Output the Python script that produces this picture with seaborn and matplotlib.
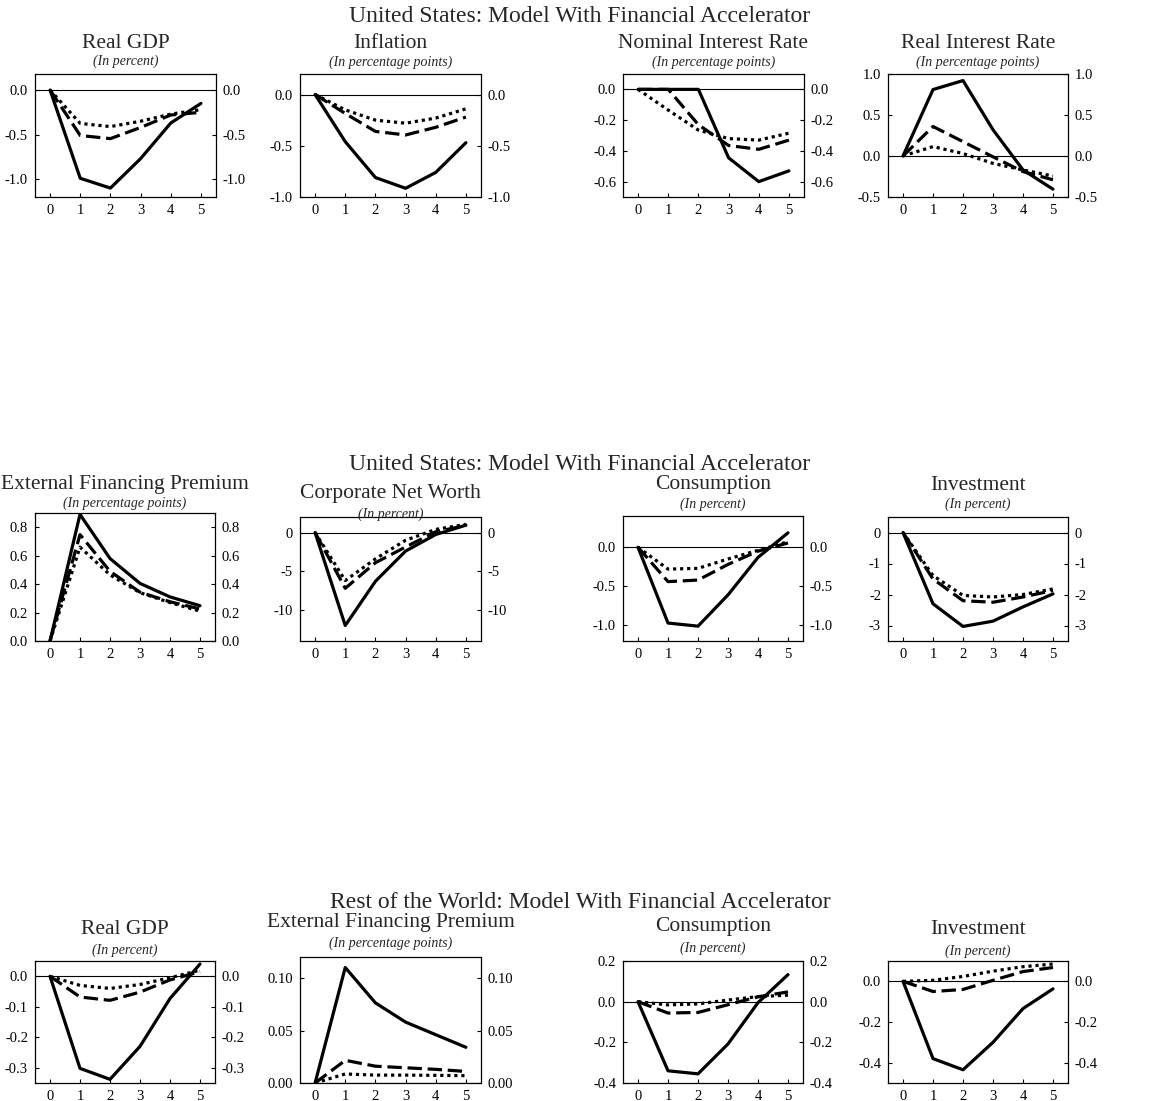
import numpy as np
import pandas as pd
import matplotlib
matplotlib.use("Agg")
import matplotlib.pyplot as plt
from matplotlib.ticker import FormatStrFormatter
import seaborn as sns

# quarters after the shock
quarters = [0, 1, 2, 3, 4, 5]
scenarios = ["A", "B", "C"]  # solid, dashed, dotted

# United States, page 1
us_gdp = {"A": [0, -0.99, -1.10, -0.77, -0.37, -0.15],
          "B": [0, -0.51, -0.545, -0.42, -0.28, -0.25],
          "C": [0, -0.375, -0.41, -0.35, -0.27, -0.22]}
us_infl = {"A": [0, -0.46, -0.81, -0.915, -0.76, -0.47],
           "B": [0, -0.185, -0.36, -0.395, -0.32, -0.22],
           "C": [0, -0.15, -0.25, -0.28, -0.23, -0.14]}
us_nom = {"A": [0, 0, 0, -0.445, -0.60, -0.53],
          "B": [0, 0, -0.23, -0.365, -0.39, -0.33],
          "C": [0, -0.135, -0.265, -0.32, -0.33, -0.285]}
us_real = {"A": [0, 0.81, 0.92, 0.32, -0.17, -0.405],
           "B": [0, 0.36, 0.175, -0.01, -0.19, -0.29],
           "C": [0, 0.115, 0.03, -0.09, -0.17, -0.245]}

# United States, page 2
us_efp = {"A": [0, 0.89, 0.58, 0.405, 0.31, 0.248],
          "B": [0, 0.748, 0.49, 0.343, 0.276, 0.225],
          "C": [0, 0.66, 0.465, 0.34, 0.27, 0.21]}
us_cnw = {"A": [0, -12.0, -6.3, -2.4, -0.26, 0.95],
          "B": [0, -7.2, -3.9, -1.87, 0.1, 0.9],
          "C": [0, -6.2, -3.4, -1.0, 0.4, 1.05]}
us_cons = {"A": [0, -0.97, -1.01, -0.61, -0.13, 0.185],
           "B": [0, -0.44, -0.42, -0.22, -0.05, 0.055],
           "C": [0, -0.28, -0.27, -0.15, -0.04, 0.07]}
us_inv = {"A": [0, -2.3, -3.03, -2.86, -2.4, -1.98],
          "B": [0, -1.5, -2.2, -2.25, -2.08, -1.87],
          "C": [0, -1.39, -2.03, -2.08, -2.0, -1.82]}

# Rest of the world
rw_gdp = {"A": [0, -0.302, -0.338, -0.23, -0.073, 0.04],
          "B": [0, -0.068, -0.079, -0.052, -0.012, 0.015],
          "C": [0, -0.03, -0.04, -0.027, -0.005, 0.02]}
rw_efp = {"A": [0, 0.11, 0.0763, 0.058, 0.046, 0.034],
          "B": [0, 0.0216, 0.016, 0.0145, 0.013, 0.011],
          "C": [0, 0.0086, 0.0075, 0.0075, 0.0073, 0.007]}
rw_cons = {"A": [0, -0.34, -0.355, -0.208, -0.005, 0.133],
           "B": [0, -0.056, -0.053, -0.015, 0.024, 0.048],
           "C": [0, -0.016, -0.011, 0.008, 0.025, 0.032]}
rw_inv = {"A": [0, -0.38, -0.435, -0.30, -0.134, -0.037],
          "B": [0, -0.05, -0.04, 0.005, 0.048, 0.068],
          "C": [0, 0.005, 0.024, 0.05, 0.072, 0.085]}

pct = "(In percent)"
pp = "(In percentage points)"

# name, subtitle, data, ylim, yticks, fmt, box px (l, t, r, b), title y px, subtitle y px
panels = [
    ("Real GDP", pct, us_gdp, (-1.2, 0.18), [-1.0, -0.5, 0.0], "%.1f", (35, 74, 216, 197), 43, 61),
    ("Inflation", pp, us_infl, (-1.0, 0.2), [-1.0, -0.5, 0.0], "%.1f", (300, 74, 481, 197), 44, 62),
    ("Nominal Interest Rate", pp, us_nom, (-0.7, 0.1), [-0.6, -0.4, -0.2, 0.0], "%.1f", (623, 74, 804, 197), 43, 62),
    ("Real Interest Rate", pp, us_real, (-0.5, 1.0), [-0.5, 0.0, 0.5, 1.0], "%.1f", (888, 74, 1068, 197), 43, 62),
    ("External Financing Premium", pp, us_efp, (0, 0.9), [0.0, 0.2, 0.4, 0.6, 0.8], "%.1f", (35, 513, 215, 641), 485, 503),
    ("Corporate Net Worth", pct, us_cnw, (-14, 2), [-10, -5, 0], "%d", (300, 517, 481, 641), 493, 514),
    ("Consumption", pct, us_cons, (-1.2, 0.4), [-1.0, -0.5, 0.0], "%.1f", (623, 516, 803, 641), 485, 504),
    ("Investment", pct, us_inv, (-3.5, 0.5), [-3, -2, -1, 0], "%d", (888, 517, 1068, 641), 485, 504),
    ("Real GDP", pct, rw_gdp, (-0.35, 0.05), [-0.3, -0.2, -0.1, 0.0], "%.1f", (35, 961, 215, 1083), 930, 950),
    ("External Financing Premium", pp, rw_efp, (0, 0.12), [0.0, 0.05, 0.10], "%.2f", (300, 957, 481, 1083), 922, 943),
    ("Consumption", pct, rw_cons, (-0.4, 0.2), [-0.4, -0.2, 0.0, 0.2], "%.1f", (623, 961, 803, 1083), 927, 948),
    ("Investment", pct, rw_inv, (-0.5, 0.1), [-0.4, -0.2, 0.0], "%.1f", (888, 961, 1068, 1083), 930, 951),
]

suptitles = [("United States: Model With Financial Accelerator", 17),
             ("United States: Model With Financial Accelerator", 465),
             ("Rest of the World: Model With Financial Accelerator", 903)]

W, H = 1159, 1101
sns.set_theme(style="ticks")
plt.rcParams["font.family"] = ["Liberation Serif", "DejaVu Serif"]
plt.rcParams["axes.unicode_minus"] = False

fig = plt.figure(figsize=(W / 100, H / 100), dpi=100)

dashes = {"A": "", "B": (4.5, 1.8), "C": (1, 1.2)}

for name, sub, data, ylim, yticks, fmt, box, ty, sy in panels:
    l, t, r, b = box
    ax = fig.add_axes([l / W, 1 - b / H, (r - l) / W, (b - t) / H])
    df = pd.DataFrame([(q, s, v) for s in scenarios for q, v in zip(quarters, data[s])],
                      columns=["quarter", "scenario", "value"])
    ax.axhline(0, color="black", lw=0.8, zorder=1)
    sns.lineplot(data=df, x="quarter", y="value", style="scenario", dashes=dashes,
                 style_order=scenarios, color="black", linewidth=2.3, legend=False,
                 ax=ax, zorder=3)
    ax.set_xlim(-0.5, 5.5)
    ax.set_ylim(*ylim)
    ax.set_xticks(quarters)
    ax.set_yticks(yticks)
    ax.yaxis.set_major_formatter(FormatStrFormatter(fmt))
    ax.set_xlabel("")
    ax.set_ylabel("")
    ax.tick_params(axis="both", labelsize=10.5, direction="in", length=3, width=0.8,
                   pad=5, color="black", labelcolor="black")
    ax.tick_params(axis="y", right=True, labelright=True)
    for sp in ax.spines.values():
        sp.set_visible(True)
        sp.set_color("black")
        sp.set_linewidth(0.9)
    cx = (l + r) / 2 / W
    fig.text(cx, 1 - ty / H, name, ha="center", va="center", fontsize=15.5)
    fig.text(cx, 1 - sy / H, sub, ha="center", va="center", fontsize=10, style="italic")

for text, y in suptitles:
    fig.text(580 / W, 1 - y / H, text, ha="center", va="center", fontsize=17)

fig.savefig("out.png", dpi=100, facecolor="white")
